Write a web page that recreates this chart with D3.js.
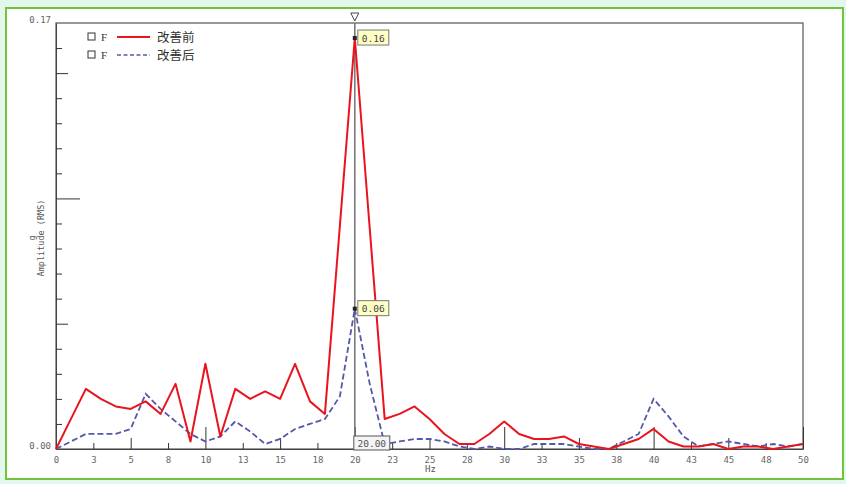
<!DOCTYPE html>
<html>
<head>
<meta charset="utf-8">
<script src="https://cdn.jsdelivr.net/npm/d3@7"></script>
<style>
  html, body { margin: 0; padding: 0; background: #e4f7ec; }
  svg { display: block; }
</style>
</head>
<body>
<svg id="chart" width="846" height="484"></svg>
<script>
// ---- data ----
const hz = [0,1,2,3,4,5,6,7,8,9,10,11,12,13,14,15,16,17,18,19,20,21,22,23,24,25,26,27,28,29,30,31,32,33,34,35,36,37,38,39,40,41,42,43,44,45,46,47,48,49,50];
const before = [0.000,0.012,0.024,0.020,0.017,0.016,0.019,0.014,0.026,0.003,0.034,0.005,0.024,0.020,0.023,0.020,0.034,0.019,0.014,0.089,0.164,0.088,0.012,0.014,0.017,0.012,0.006,0.002,0.002,0.006,0.011,0.006,0.004,0.004,0.005,0.002,0.001,0.000,0.002,0.004,0.008,0.003,0.001,0.001,0.002,0.000,0.001,0.001,0.000,0.001,0.002];
const after = [0.000,0.003,0.006,0.006,0.006,0.008,0.022,0.016,0.011,0.006,0.003,0.005,0.011,0.007,0.002,0.004,0.008,0.010,0.012,0.021,0.056,0.026,0.002,0.003,0.004,0.004,0.003,0.001,0.000,0.001,0.000,0.000,0.002,0.002,0.002,0.001,0.000,0.000,0.003,0.006,0.020,0.013,0.005,0.001,0.002,0.003,0.002,0.001,0.002,0.001,0.002];
const seriesNames = ["改善前", "改善后"];
const xTickValues = [0,2.5,5,7.5,10,12.5,15,17.5,20,22.5,25,27.5,30,32.5,35,37.5,40,42.5,45,47.5,50];
const xTickLabels = ["0","3","5","8","10","13","15","18","20","23","25","28","30","33","35","38","40","43","45","48","50"];
const yTickValues = [0,0.01,0.02,0.03,0.04,0.05,0.06,0.07,0.08,0.09,0.10,0.11,0.12,0.13,0.14,0.15,0.16,0.17];
const yTickLabels = ["0.00","0.17"];
const cursorHz = 20;
const cursorLabels = ["0.16","0.06"];
const cursorXLabel = "20.00";

// ---- layout ----
const svg = d3.select("#chart");
const L = 56, R = 803, T = 23, B = 449;
const x = d3.scaleLinear().domain([0, 50]).range([L, R]);
const y = d3.scaleLinear().domain([0, 0.17]).range([B, T]);
const mono = "'DejaVu Sans Mono', monospace";

// outer frame
svg.append("rect").attr("x", 6).attr("y", 8).attr("width", 837).attr("height", 471)
  .attr("fill", "#ffffff").attr("stroke", "#72c23e").attr("stroke-width", 2);

// plot frame
svg.append("rect").attr("x", L).attr("y", T).attr("width", R - L).attr("height", B - T)
  .attr("fill", "none").attr("stroke", "#555").attr("stroke-width", 1.2);

// x axis ticks (inward)
const xAxis = d3.axisBottom(x).tickValues(xTickValues).tickSize(0).tickFormat((d, i) => xTickLabels[i]);
const gx = svg.append("g").attr("transform", `translate(0,${B})`).call(xAxis);
gx.select(".domain").attr("stroke", "#444");
gx.selectAll("text").attr("font-family", mono).attr("font-size", 9).attr("fill", "#666").attr("dy", "0.95em").attr("y", 5);
gx.selectAll(".tick").append("line")
  .attr("y1", 0)
  .attr("y2", d => (d % 10 === 0 ? -22 : d % 5 === 0 ? -11 : -6))
  .attr("stroke", "#333").attr("stroke-width", 1);

// y axis ticks (inward)
const yAxis = d3.axisLeft(y).tickValues(yTickValues).tickSize(0)
  .tickFormat(d => (Math.abs(d) < 1e-9 ? yTickLabels[0] : Math.abs(d - 0.17) < 1e-9 ? yTickLabels[1] : ""));
const gy = svg.append("g").attr("transform", `translate(${L},0)`).call(yAxis);
gy.select(".domain").attr("stroke", "#444");
gy.selectAll("text").attr("font-family", mono).attr("font-size", 9).attr("fill", "#666").attr("x", -5).attr("dy", "-0.1em");
gy.selectAll(".tick").append("line")
  .attr("x1", 0)
  .attr("x2", d => {
    const k = Math.round(d * 100);
    return k % 10 === 0 && k > 0 ? 24 : k % 5 === 0 && k > 0 ? 12 : (k === 0 || k === 17) ? 0 : 6;
  })
  .attr("stroke", "#333").attr("stroke-width", 1);

// axis titles
svg.append("text").attr("x", (L + R) / 2 + 1).attr("y", 472).attr("text-anchor", "middle")
  .attr("font-family", mono).attr("font-size", 9).attr("fill", "#555").text("Hz");
svg.append("text").attr("transform", "translate(44,238) rotate(-90)").attr("text-anchor", "middle")
  .attr("font-family", mono).attr("font-size", 8.5).attr("fill", "#555").text("Amplitude (RMS)");
svg.append("text").attr("transform", "translate(35,238) rotate(-90)").attr("text-anchor", "middle")
  .attr("font-family", mono).attr("font-size", 8.5).attr("fill", "#555").text("g");

// cursor line
svg.append("line").attr("x1", x(cursorHz)).attr("x2", x(cursorHz)).attr("y1", T).attr("y2", B)
  .attr("stroke", "#7a7a7a").attr("stroke-width", 1.6);

// lines
const line = d3.line().x((d, i) => x(hz[i])).y(d => y(d));
svg.append("path").datum(after).attr("d", line).attr("fill", "none")
  .attr("stroke", "#5558a8").attr("stroke-width", 1.8).attr("stroke-dasharray", "6,3");
svg.append("path").datum(before).attr("d", line).attr("fill", "none")
  .attr("stroke", "#e8141e").attr("stroke-width", 2).attr("stroke-linejoin", "round");

// cursor triangle
const cx = x(cursorHz);
svg.append("path").attr("d", `M${cx - 4},13 L${cx + 4},13 L${cx},21 Z`)
  .attr("fill", "#fff").attr("stroke", "#444").attr("stroke-width", 1);

// cursor markers and value boxes
const ci = hz.indexOf(cursorHz);
[before[ci], after[ci]].forEach((v, i) => {
  const py = y(v);
  svg.append("rect").attr("x", cx - 2).attr("y", py - 2).attr("width", 4).attr("height", 4).attr("fill", "#222");
  svg.append("rect").attr("x", cx + 3).attr("y", py - 8).attr("width", 31).attr("height", 15)
    .attr("fill", "#ffffc4").attr("stroke", "#777").attr("stroke-width", 1);
  svg.append("text").attr("x", cx + 18.5).attr("y", py + 3.5).attr("text-anchor", "middle")
    .attr("font-family", mono).attr("font-size", 9.5).attr("fill", "#444").text(cursorLabels[i]);
});
svg.append("rect").attr("x", cx - 1).attr("y", B - 13).attr("width", 36).attr("height", 14)
  .attr("fill", "#f4f4f4").attr("stroke", "#555").attr("stroke-width", 1);
svg.append("text").attr("x", cx + 17).attr("y", B - 2.5).attr("text-anchor", "middle")
  .attr("font-family", mono).attr("font-size", 9.5).attr("fill", "#555").text(cursorXLabel);

// legend
const legend = [
  { name: seriesNames[0], color: "#e8141e", dash: null, y: 37 },
  { name: seriesNames[1], color: "#5558a8", dash: "4,2.5", y: 55 }
];
legend.forEach(l => {
  svg.append("rect").attr("x", 88).attr("y", l.y - 4).attr("width", 7).attr("height", 7)
    .attr("fill", "#fff").attr("stroke", "#333").attr("stroke-width", 1);
  svg.append("text").attr("x", 101).attr("y", l.y + 4).attr("font-family", "'Liberation Serif', serif")
    .attr("font-size", 11).attr("fill", "#333").text("F");
  svg.append("line").attr("x1", 117).attr("x2", 150).attr("y1", l.y).attr("y2", l.y)
    .attr("stroke", l.color).attr("stroke-width", l.dash ? 1.6 : 1.8).attr("stroke-dasharray", l.dash);
  svg.append("text").attr("x", 157).attr("y", l.y + 5).attr("font-family", "'Noto Sans CJK SC', sans-serif")
    .attr("font-size", 12.5).attr("fill", "#333").text(l.name);
});
</script>
</body>
</html>
